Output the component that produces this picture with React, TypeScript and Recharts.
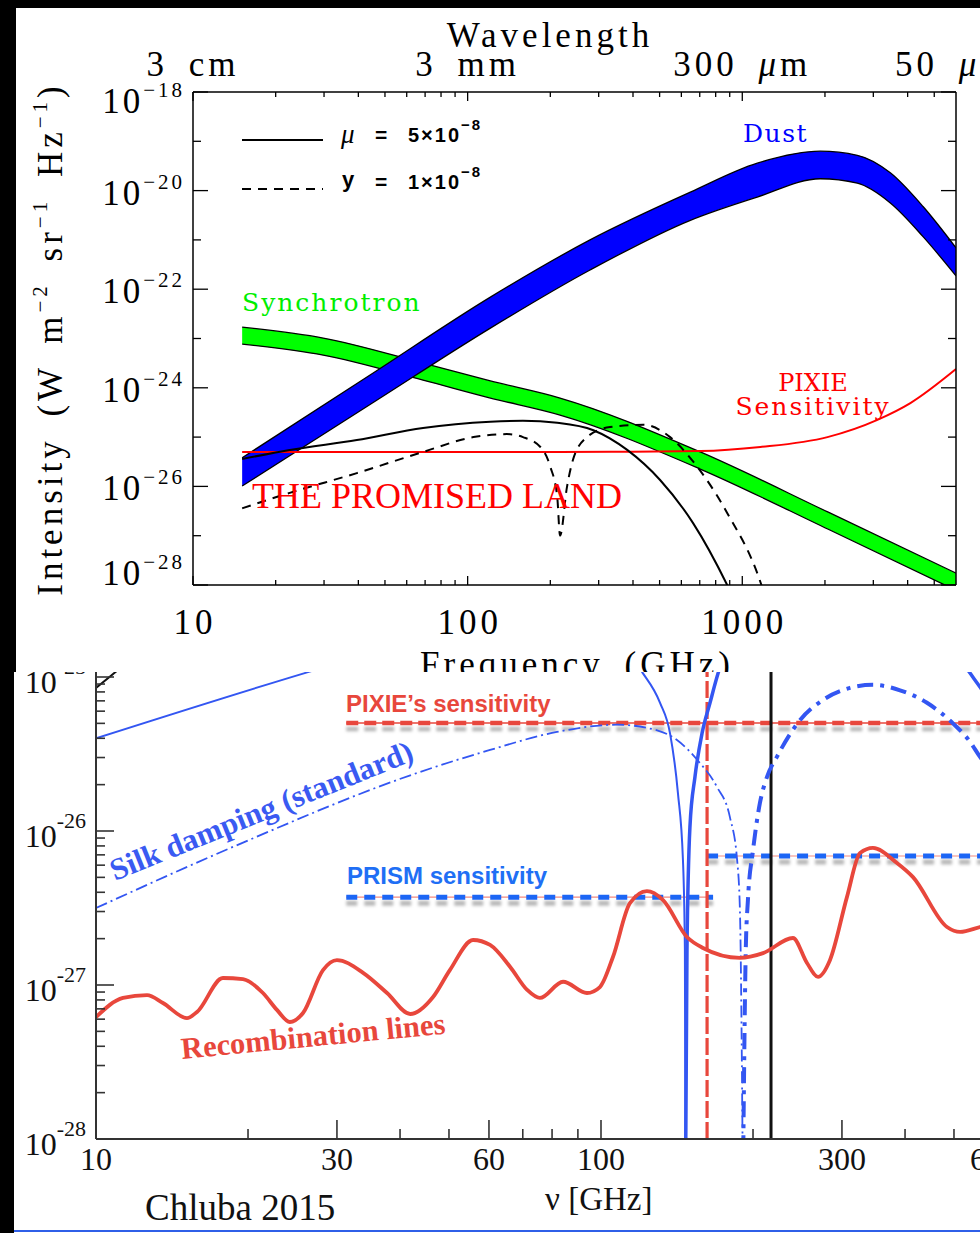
import React from 'react';
import { ComposedChart, Line, Area, XAxis, YAxis } from 'recharts';

const SERIF = '"Liberation Serif", "Times New Roman", serif';
const SANS = '"Liberation Sans", Arial, sans-serif';
const IDL = '"DejaVu Serif", serif';

// ---------------- Upper panel: foregrounds and spectral distortions ----------------
// frequency in GHz, intensity in W m^-2 sr^-1 Hz^-1
const dustFreq = [15.1, 45, 121, 279, 647, 1134, 1923, 2624, 3459, 4560, 6000];
const dustHigh = [3.8e-26, 1.95e-24, 6.9e-23, 1.0e-21, 9.3e-21, 3.6e-20, 6.3e-20, 5.2e-20, 2.3e-20, 4.7e-21, 6.9e-22];
const dustLow = [1.02e-26, 4.9e-25, 1.62e-23, 2.45e-22, 2.5e-21, 7.4e-21, 1.74e-20, 1.41e-20, 5.6e-21, 1.15e-21, 1.86e-22];

const syncFreq = [15.1, 29.8, 68.8, 121, 217, 703, 2056, 6000];
const syncHigh = [1.7e-23, 1.02e-23, 3.18e-24, 1.38e-24, 6.2e-25, 5.0e-26, 3.0e-27, 1.74e-28];
const syncLow = [7.7e-24, 4.6e-24, 1.43e-24, 6.2e-25, 2.8e-25, 2.25e-26, 1.35e-27, 7.8e-29];

const pixieFreq = [15.1, 217, 400, 703, 1164, 2042, 3105, 4093, 6000];
const pixieSens = [5.0e-26, 5.0e-26, 5.05e-26, 5.2e-26, 6.3e-26, 1.0e-25, 2.24e-25, 4.9e-25, 2.4e-24];

const muFreq = [15.1, 22.5, 39.5, 68.8, 121, 159, 212, 287, 381, 502, 662, 881, 1164];
const muSignal = [3.6e-26, 5.5e-26, 8.7e-26, 1.53e-25, 2.04e-25, 2.14e-25, 1.95e-25, 1.38e-25, 5.5e-26, 1.35e-26, 1.8e-27, 1.0e-28, 3e-30];

const yFreq = [15.1, 22.5, 39.5, 68.8, 105, 139, 159, 184, 200, 212, 217, 230, 242, 272, 330, 436, 546, 662, 881, 1164, 1400];
const ySignal = [3.6e-27, 7.4e-27, 1.86e-26, 5.0e-26, 1.0e-25, 1.15e-25, 1.0e-25, 6.3e-26, 2.5e-26, 6e-27, 1.0e-27, 9.8e-27, 3.5e-26, 1.0e-25, 1.6e-25, 1.78e-25, 1.0e-25, 3.2e-26, 2.9e-27, 1.15e-28, 3e-30];

const topFreqTicks = [10, 20, 30, 40, 50, 60, 70, 80, 90, 100, 200, 300, 400, 500, 600, 700, 800, 900, 1000, 2000, 3000, 4000, 5000];
const topFreqLabels: Record<number, string> = { 10: '10', 100: '100', 1000: '1000' };
const wavelengthTicks = [...topFreqTicks, 6000];
const wavelengthLabels: Record<number, [string, string]> = {
  10: ['3 ', 'cm'],
  100: ['3 ', 'mm'],
  1000: ['300 ', 'm'],
  6000: ['50 ', 'm'],
};
const wavelengthMicro: Record<number, boolean> = { 1000: true, 6000: true };
const topIntensityTicks = [1e-28, 1e-27, 1e-26, 1e-25, 1e-24, 1e-23, 1e-22, 1e-21, 1e-20, 1e-19, 1e-18];

// ---------------- Lower panel: distortion signals vs. sensitivities ----------------
const recombFreq = [10, 11.31, 12.62, 13.57, 15.14, 15.85, 17.84, 19.54, 21.41, 22.82, 24.2, 25.7, 28.15, 30.0, 33.8, 37.7, 41.9, 46.5, 50.2, 55.8, 60.3, 66.1, 71.4, 75.7, 84.1, 93.8, 99.5, 105.6, 114.1, 123.3, 132.7, 148, 159.2, 188.4, 209.4, 239.9, 255.8, 269, 284, 306.9, 325.8, 345.6, 385.5, 414.8, 484.3, 514, 563, 620];
const recombLines = [6.19e-28, 8.24e-28, 8.6e-28, 7.64e-28, 6.1e-28, 6.68e-28, 1.11e-27, 1.09e-27, 8.87e-28, 6.89e-28, 5.75e-28, 6.58e-28, 1.25e-27, 1.45e-27, 1.2e-27, 8.87e-28, 6.48e-28, 8.36e-28, 1.25e-27, 1.96e-27, 1.82e-27, 1.31e-27, 9.3e-28, 8.24e-28, 1.05e-27, 8.87e-28, 9.7e-28, 1.52e-27, 3.4e-27, 4.07e-27, 3.56e-27, 2.05e-27, 1.74e-27, 1.5e-27, 1.61e-27, 2.02e-27, 1.39e-27, 1.13e-27, 1.45e-27, 3.72e-27, 7.19e-27, 7.76e-27, 6.2e-27, 5.02e-27, 2.38e-27, 2.21e-27, 2.38e-27, 2.6e-27];

const silkFreq = [10, 18.7, 43.2, 60.3, 81.8, 107.6, 129.2, 141.4, 155, 169.7, 180, 186, 188.4, 191];
const silkPositive = [3.16e-27, 7.9e-27, 2.38e-26, 3.36e-26, 4.4e-26, 4.9e-26, 4.5e-26, 3.9e-26, 2.9e-26, 1.93e-26, 1.23e-26, 6.5e-27, 3.07e-27, 5e-29];
const silkNegFreq = [191, 193.5, 195.4, 200, 206.4, 213.2, 223, 247.9, 275.2, 311.3, 345.6, 390.9, 442, 497.7, 537.9, 563, 650, 800];
const silkNegative = [5e-29, 1.7e-27, 3.56e-27, 7.5e-27, 1.52e-26, 2.25e-26, 3.03e-26, 5.26e-26, 7.1e-26, 8.5e-26, 8.9e-26, 8.2e-26, 6.8e-26, 5.0e-26, 3.8e-26, 3.03e-26, 1.8e-26, 7e-27];

const muBFreq = [10, 25.9, 45, 70, 100, 121, 130.9, 137, 142, 145.3, 146.6, 147];
const muBPositive = [4.0e-26, 1.06e-25, 1.8e-25, 2.3e-25, 1.9e-25, 1.06e-25, 6.8e-26, 4.3e-26, 1.77e-26, 6.5e-27, 1.7e-27, 5e-29];
const muBNegFreq = [147, 148, 150, 153.5, 158.5, 164.4, 170.6, 200, 260, 350, 450, 537.9, 563, 650, 800];
const muBNegative = [5e-29, 1.7e-27, 1.06e-26, 2.25e-26, 4.3e-26, 6.8e-26, 1.06e-25, 2.5e-25, 4e-25, 4e-25, 2.5e-25, 1.06e-25, 8.6e-26, 4e-26, 1e-26];

const steepFreq = [10, 10.9, 13];
const steepSignal = [8.5e-26, 1.07e-25, 1.8e-25];

const pixieBandFreq = [31.3, 1000];
const pixieBandLevel = [5.03e-26, 5.03e-26];
const pixieEdgeFreq = [162.2, 162.2];
const edgeSpan = [1e-28, 1e-24];
const prismLowFreq = [31.3, 166.7];
const prismLowLevel = [3.72e-27, 3.72e-27];
const prismHighFreq = [162.2, 1000];
const prismHighLevel = [6.88e-27, 6.88e-27];
const nullFreq = [217.1, 217.1];

const lowFreqTicks = [10, 20, 30, 40, 50, 60, 70, 80, 90, 100, 200, 300, 400, 500, 600, 700, 800, 900, 1000];
const lowFreqLabels: Record<number, string> = { 10: '10', 30: '30', 60: '60', 100: '100', 300: '300', 600: '600' };
const lowDecades = [1e-28, 1e-27, 1e-26, 1e-25, 1e-24];
const lowIntensityTicks = [
  ...lowDecades,
  ...lowDecades.slice(0, 4).flatMap((d) => [2, 3, 4, 5, 6, 7, 8, 9].map((k) => k * d)),
];

const pts = (fs: number[], vs: number[]) => fs.map((f, i) => ({ f, v: vs[i] }));
const band = (fs: number[], lo: number[], hi: number[]) => fs.map((f, i) => ({ f, band: [lo[i], hi[i]] }));

const expOf = (v: number) => Math.round(Math.log10(v));
const isDecade = (v: number) => Math.abs(Math.log10(v) - expOf(v)) < 1e-6;

// ---------- tick renderers (inward ticks) ----------
function TopFreqTick(props: any) {
  const { x, y, payload } = props;
  const label = topFreqLabels[payload.value];
  return (
    <g>
      <line x1={x} x2={x} y1={y} y2={y - (label ? 9 : 5)} stroke="#000" strokeWidth={1.3} />
      {label && (
        <text x={x + 2} y={y + 49} textAnchor="middle" fontFamily={SERIF} fontSize={35} letterSpacing={4} fill="#000">
          {label}
        </text>
      )}
    </g>
  );
}

function WavelengthTick(props: any) {
  const { x, y, payload } = props;
  const v = payload.value;
  const lab = wavelengthLabels[v];
  const major = v === 10 || v === 100 || v === 1000;
  return (
    <g>
      {v !== 6000 && <line x1={x} x2={x} y1={y} y2={y + (major ? 9 : 5)} stroke="#000" strokeWidth={1.3} />}
      {lab && (
        <text x={v === 6000 ? x - 61 : x} y={y - 16} textAnchor={v === 6000 ? 'start' : 'middle'} fontFamily={SERIF} fontSize={35} letterSpacing={4} wordSpacing={8} fill="#000">
          {lab[0]}
          {wavelengthMicro[v] && <tspan fontStyle="italic">μ</tspan>}
          {lab[1]}
        </text>
      )}
    </g>
  );
}

function TopLeftTick(props: any) {
  const { x, y, payload } = props;
  const e = expOf(payload.value);
  const major = e % 2 === 0;
  const dy = e === -18 ? 21 : e === -28 ? 0 : 14;
  return (
    <g>
      <line x1={x} x2={x + (major ? 15 : 8)} y1={y} y2={y} stroke="#000" strokeWidth={1.3} />
      {major && (
        <text x={x - 8} y={y + dy} textAnchor="end" fontFamily={SERIF} fontSize={35} letterSpacing={3} fill="#000">
          10
          <tspan fontSize={21} dy={-16}>{'−' + Math.abs(e)}</tspan>
        </text>
      )}
    </g>
  );
}

function TopRightTick(props: any) {
  const { x, y, payload } = props;
  const major = expOf(payload.value) % 2 === 0;
  return <line x1={x} x2={x - (major ? 15 : 8)} y1={y} y2={y} stroke="#000" strokeWidth={1.3} />;
}

function LowFreqTick(props: any) {
  const { x, y, payload } = props;
  const label = lowFreqLabels[payload.value];
  return (
    <g>
      <line x1={x} x2={x} y1={y} y2={y - (label ? 19 : 10)} stroke="#333" strokeWidth={1.6} />
      {label && (
        <text x={x} y={y + 31} textAnchor="middle" fontFamily={SERIF} fontSize={32} fill="#111">
          {label}
        </text>
      )}
    </g>
  );
}

function LowLeftTick(props: any) {
  const { x, y, payload } = props;
  const v = payload.value;
  const major = isDecade(v);
  return (
    <g>
      <line x1={x} x2={x + (major ? 18 : 9)} y1={y} y2={y} stroke="#333" strokeWidth={1.6} />
      {major && (
        <text x={x - 10} y={y + 16} textAnchor="end" fontFamily={SERIF} fontSize={32} fill="#111">
          10
          <tspan fontSize={22} dy={-19}>{'-' + Math.abs(expOf(v))}</tspan>
        </text>
      )}
    </g>
  );
}

function UpperChart() {
  const lineProps = { xAxisId: 'b', yAxisId: 'l', dataKey: 'v', dot: false, isAnimationActive: false } as const;
  return (
    <ComposedChart width={980} height={672} margin={{ top: 0, right: 0, bottom: 0, left: 0 }}>
      <XAxis xAxisId="b" orientation="bottom" dataKey="f" type="number" scale="log" domain={[10, 6000]} allowDataOverflow
        ticks={topFreqTicks} interval={0} tickSize={0} tickMargin={0} tickLine={false} tick={(p: any) => <TopFreqTick {...p} />}
        height={87} axisLine={{ stroke: '#000', strokeWidth: 1.5 }} />
      <XAxis xAxisId="t" orientation="top" dataKey="f" type="number" scale="log" domain={[10, 6000]} allowDataOverflow
        ticks={wavelengthTicks} interval={0} tickSize={0} tickMargin={0} tickLine={false} tick={(p: any) => <WavelengthTick {...p} />}
        height={92} axisLine={{ stroke: '#000', strokeWidth: 1.5 }} />
      <YAxis yAxisId="l" orientation="left" type="number" scale="log" domain={[1e-28, 1e-18]} allowDataOverflow
        ticks={topIntensityTicks} interval={0} tickSize={0} tickMargin={0} tickLine={false} tick={(p: any) => <TopLeftTick {...p} />}
        width={193} axisLine={{ stroke: '#000', strokeWidth: 1.5 }} />
      <YAxis yAxisId="r" orientation="right" type="number" scale="log" domain={[1e-28, 1e-18]} allowDataOverflow
        ticks={topIntensityTicks} interval={0} tickSize={0} tickMargin={0} tickLine={false} tick={(p: any) => <TopRightTick {...p} />}
        width={24} axisLine={{ stroke: '#000', strokeWidth: 1.5 }} />

      <Area xAxisId="b" yAxisId="l" data={band(syncFreq, syncLow, syncHigh)} dataKey="band" type="monotone"
        fill="#00ff00" fillOpacity={1} stroke="#000" strokeWidth={1.3} isAnimationActive={false} />
      <Area xAxisId="b" yAxisId="l" data={band(dustFreq, dustLow, dustHigh)} dataKey="band" type="monotone"
        fill="#0000ff" fillOpacity={1} stroke="#000" strokeWidth={1.3} isAnimationActive={false} />
      <Line {...lineProps} data={pts(pixieFreq, pixieSens)} type="monotone" stroke="#ff0000" strokeWidth={2} />
      <Line {...lineProps} data={pts(muFreq, muSignal)} type="monotone" stroke="#000" strokeWidth={2} />
      <Line {...lineProps} data={pts(yFreq, ySignal)} type="monotone" stroke="#000" strokeWidth={2} strokeDasharray="9 7" />
    </ComposedChart>
  );
}

function LowerChart() {
  const lineProps = { xAxisId: 'b', yAxisId: 'l', dataKey: 'v', dot: false, isAnimationActive: false } as const;
  const red = '#e8473c';
  const blue = '#3356f2';
  return (
    <ComposedChart width={1120} height={753} margin={{ top: 43, right: 14, bottom: 0, left: 0 }}>
      <defs>
        <filter id="dashShadow" filterUnits="userSpaceOnUse" x={-20} y={-20} width={1200} height={820}>
          <feDropShadow dx={0} dy={6} stdDeviation={1.8} floodColor="#000" floodOpacity={0.28} />
        </filter>
      </defs>
      <XAxis xAxisId="b" orientation="bottom" dataKey="f" type="number" scale="log" domain={[10, 1000]} allowDataOverflow
        ticks={lowFreqTicks} interval={0} tickSize={0} tickMargin={0} tickLine={false} tick={(p: any) => <LowFreqTick {...p} />}
        height={94} axisLine={{ stroke: '#333', strokeWidth: 2 }} />
      <YAxis yAxisId="l" orientation="left" type="number" scale="log" domain={[1e-28, 1e-24]} allowDataOverflow
        ticks={lowIntensityTicks} interval={0} tickSize={0} tickMargin={0} tickLine={false} tick={(p: any) => <LowLeftTick {...p} />}
        width={96} axisLine={{ stroke: '#333', strokeWidth: 2 }} />

      {/* sensitivity levels */}
      <Line {...lineProps} data={pts(pixieBandFreq, pixieBandLevel)} type="linear" stroke={red} strokeWidth={1.5} />
      <Line {...lineProps} data={pts(pixieBandFreq, pixieBandLevel)} type="linear" stroke={red} strokeWidth={4.5} strokeDasharray="12 6" filter="url(#dashShadow)" />
      <Line {...lineProps} data={pts(prismLowFreq, prismLowLevel)} type="linear" stroke="#f28a80" strokeWidth={1.2} />
      <Line {...lineProps} data={pts(prismLowFreq, prismLowLevel)} type="linear" stroke="#1f66f5" strokeWidth={5} strokeDasharray="11 7" filter="url(#dashShadow)" />
      <Line {...lineProps} data={pts(prismHighFreq, prismHighLevel)} type="linear" stroke="#f28a80" strokeWidth={1.2} />
      <Line {...lineProps} data={pts(prismHighFreq, prismHighLevel)} type="linear" stroke="#1f66f5" strokeWidth={5} strokeDasharray="11 7" filter="url(#dashShadow)" />
      <Line {...lineProps} data={pts(pixieEdgeFreq, edgeSpan)} type="linear" stroke={red} strokeWidth={3.2} strokeDasharray="17 4" />
      <Line {...lineProps} data={pts(nullFreq, edgeSpan)} type="linear" stroke="#111" strokeWidth={3} />

      {/* signals */}
      <Line {...lineProps} data={pts(steepFreq, steepSignal)} type="monotone" stroke="#111" strokeWidth={2} />
      <Line {...lineProps} data={pts(muBFreq, muBPositive)} type="monotone" stroke={blue} strokeWidth={2} />
      <Line {...lineProps} data={pts(muBNegFreq, muBNegative)} type="monotone" stroke={blue} strokeWidth={3.5} />
      <Line {...lineProps} data={pts(silkFreq, silkPositive)} type="monotone" stroke={blue} strokeWidth={1.8} strokeDasharray="12 4 2 4" />
      <Line {...lineProps} data={pts(silkNegFreq, silkNegative)} type="monotone" stroke={blue} strokeWidth={4} strokeDasharray="16 7 4 7" />
      <Line {...lineProps} data={pts(recombFreq, recombLines)} type="monotone" stroke={red} strokeWidth={3.8} />
    </ComposedChart>
  );
}

export default function App() {
  return (
    <div style={{ position: 'absolute', left: 0, top: 0, width: 980, height: 1233, background: '#000', overflow: 'hidden' }}>
      {/* upper panel */}
      <div style={{ position: 'absolute', left: 0, top: 0, width: 980, height: 672, overflow: 'hidden' }}>
        <div style={{ position: 'absolute', left: 16, top: 8, width: 964, height: 664, background: '#fff' }} />
        <div style={{ position: 'absolute', left: 0, top: 0 }}>
          <UpperChart />
        </div>
        <svg width={980} height={672} style={{ position: 'absolute', left: 0, top: 0, pointerEvents: 'none' }}>
          <text x={550} y={47} textAnchor="middle" fontFamily={SERIF} fontSize={35} letterSpacing={4} fill="#000">Wavelength</text>
          <text x={577} y={676} textAnchor="middle" fontFamily={SERIF} fontSize={35} letterSpacing={4} wordSpacing={8} fill="#000">Frequency (GHz)</text>
          <text x={62} y={339} transform="rotate(-90, 62, 339)" textAnchor="middle" fontFamily={SERIF} fontSize={35} letterSpacing={4} wordSpacing={8} fill="#000">
            Intensity (W m<tspan fontSize={21} dy={-15}>−2</tspan>
            <tspan dy={15}> sr</tspan><tspan fontSize={21} dy={-15}>−1</tspan>
            <tspan dy={15}> Hz</tspan><tspan fontSize={21} dy={-15}>−1</tspan>
            <tspan dy={15}>)</tspan>
          </text>

          {/* legend */}
          <line x1={242} x2={323} y1={140} y2={140} stroke="#000" strokeWidth={2} />
          <line x1={242} x2={323} y1={189} y2={189} stroke="#000" strokeWidth={2} strokeDasharray="9 7" />
          <text x={341} y={143} fontFamily={SERIF} fontStyle="italic" fontSize={27} fill="#000">μ</text>
          <text x={375} y={142} fontFamily={SANS} fontWeight="bold" fontSize={21} fill="#000">=</text>
          <text x={408} y={142} fontFamily={SANS} fontWeight="bold" fontSize={20} letterSpacing={2} fill="#000">
            5×10<tspan fontSize={15} dy={-12}>−8</tspan>
          </text>
          <text x={342} y={187} fontFamily={SANS} fontWeight="bold" fontSize={22} fill="#000">y</text>
          <text x={375} y={189} fontFamily={SANS} fontWeight="bold" fontSize={21} fill="#000">=</text>
          <text x={408} y={189} fontFamily={SANS} fontWeight="bold" fontSize={20} letterSpacing={2} fill="#000">
            1×10<tspan fontSize={15} dy={-12}>−8</tspan>
          </text>

          <text x={242} y={311} fontFamily={IDL} fontSize={25} letterSpacing={2} fill="#00ee00">Synchrotron</text>
          <text x={743} y={142} fontFamily={IDL} fontSize={25} letterSpacing={1.5} fill="#0000ff">Dust</text>
          <text x={813} y={391} textAnchor="middle" fontFamily={IDL} fontSize={24} fill="#ff0000">PIXIE</text>
          <text x={813} y={415} textAnchor="middle" fontFamily={IDL} fontSize={25} letterSpacing={2} fill="#ff0000">Sensitivity</text>
          <text x={252} y={508} fontFamily={SERIF} fontSize={36} fill="#ff0000">THE PROMISED LAND</text>
        </svg>
      </div>

      {/* lower panel */}
      <div style={{ position: 'absolute', left: 0, top: 672, width: 980, height: 561, overflow: 'hidden', background: '#fff' }}>
        <div style={{ position: 'absolute', left: 0, top: -192 }}>
          <LowerChart />
        </div>
        <div style={{ position: 'absolute', left: 0, top: 0, width: 14, height: 561, background: '#000' }} />
        <svg width={980} height={561} style={{ position: 'absolute', left: 0, top: 0, pointerEvents: 'none' }}>
          <g transform="translate(0,-672)">
            <text x={346} y={712} fontFamily={SANS} fontWeight="bold" fontSize={24} fill="#e8473c">PIXIE’s sensitivity</text>
            <text x={347} y={884} fontFamily={SANS} fontWeight="bold" fontSize={24} fill="#1f6ff5">PRISM sensitivity</text>
            <text x={115} y={881} transform="rotate(-22, 115, 881)" fontFamily={SERIF} fontWeight="bold" fontSize={31} fill="#3a5af2">Silk damping (standard)</text>
            <text x={182} y={1059} transform="rotate(-5.5, 182, 1059)" fontFamily={SERIF} fontWeight="bold" fontSize={30.5} fill="#e8473c">Recombination lines</text>
            <text x={145} y={1220} fontFamily={SERIF} fontSize={37} fill="#111">Chluba 2015</text>
            <text x={545} y={1210} fontFamily={SERIF} fontSize={33} fill="#111">ν [GHz]</text>
          </g>
        </svg>
        <div style={{ position: 'absolute', left: 14, top: 558, width: 966, height: 2, background: '#2f5fe8' }} />
      </div>
    </div>
  );
}
